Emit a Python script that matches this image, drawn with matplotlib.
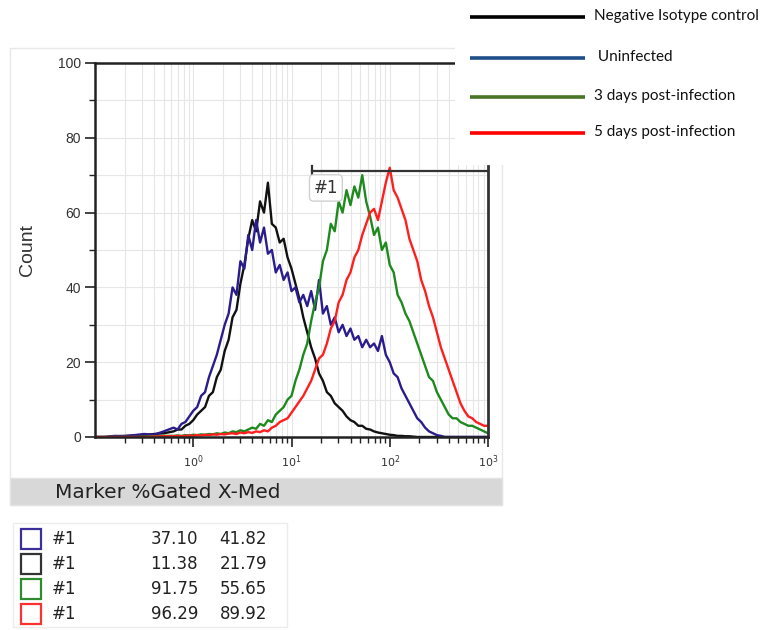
import numpy as np
import matplotlib
matplotlib.use("Agg")
import matplotlib.pyplot as plt
from matplotlib.patches import Rectangle
from matplotlib.ticker import LogLocator, FixedLocator, NullFormatter

# channel positions (log10 of fluorescence), histogram bins
chan_log = [-1.0, -0.9, -0.8, -0.7, -0.6, -0.5, -0.4, -0.3] + [round(-0.2 + 0.04 * i, 2) for i in range(81)]

uninfected = [0, 0, 0.3, 0.2, 0.5, 0.8, 0.6, 1.5,
              2.5, 2, 3.5, 4, 5.5, 7, 8, 11, 12, 16,
              19, 22, 26, 30, 33, 40, 38, 47, 45, 54,
              50, 58, 52, 56, 49, 50, 44, 46, 42, 44,
              39, 40, 36, 38, 35, 39, 34, 42, 33, 35,
              30, 32, 28, 30, 27, 29, 26, 27, 24, 26,
              24, 25, 23, 27, 22, 20, 17, 16, 13, 11,
              9, 7, 5, 4, 2.5, 1.5, 1, 0.5, 0.3, 0,
              0, 0, 0, 0, 0, 0, 0, 0, 0, 0, 0]

isotype = [0, 0, 0.2, 0.3, 0.4, 0.5, 0.8, 1,
           1.5, 2, 2, 3, 3.5, 4.5, 6, 7, 8, 11,
           12, 16, 18, 23, 26, 32, 34, 41, 46, 53,
           58, 55, 63, 60, 68, 57, 56, 52, 53, 48,
           45, 41, 37, 32, 28, 24, 21, 17, 15, 12,
           11, 9, 8, 7, 5.5, 4.5, 4, 3, 3, 2.2,
           2, 1.5, 1.2, 1, 0.8, 0.6, 0.5, 0.3, 0.3, 0.2,
           0.2, 0.1, 0, 0, 0, 0, 0, 0, 0, 0,
           0, 0, 0, 0, 0, 0, 0, 0, 0, 0, 0]

day3 = [0, 0, 0, 0, 0, 0.1, 0.2, 0.3,
        0.3, 0.4, 0.3, 0.5, 0.4, 0.6, 0.5, 0.7, 0.6, 0.8,
        0.7, 1, 0.8, 1.2, 1, 1.5, 1.3, 1.8, 1.5, 2,
        2.5, 2.2, 3.5, 3, 4.5, 4, 6, 7, 8, 10,
        11, 15, 18, 22, 25, 31, 36, 40, 47, 50,
        57, 55, 63, 60, 66, 62, 67, 64, 70, 63,
        59, 54, 56, 50, 52, 46, 44, 38, 36, 33,
        31, 28, 25, 22, 19, 16, 15, 12, 10, 8,
        6, 5, 5, 4, 3.5, 3, 3, 2.5, 2, 1.5, 1]

day5 = [0, 0, 0, 0, 0, 0, 0.1, 0.2,
        0.2, 0.3, 0.2, 0.3, 0.4, 0.3, 0.5, 0.4, 0.6, 0.5,
        0.7, 0.6, 0.8, 0.7, 0.9, 1, 0.8, 1.2, 1, 1.3,
        1.1, 1.5, 1.3, 1.8, 1.5, 2.5, 3, 4, 4.5, 5,
        6.5, 8, 9.5, 11, 13, 15, 18, 21, 22, 25,
        29, 31, 36, 38, 42, 44, 48, 50, 54, 57,
        60, 61, 58, 63, 68, 72, 66, 64, 61, 58,
        53, 50, 47, 42, 39, 35, 32, 28, 24, 21,
        18, 15, 12, 9, 7, 5.5, 5, 4, 3.5, 3, 3]

legend_labels = ["Negative Isotype control", " Uninfected", "3 days post-infection", "5 days post-infection"]
legend_colors = ["#000000", "#1f4e8a", "#4a7526", "#ff0000"]

gate_lo, gate_hi, gate_y = 16, 1000, 71

table_colors = ["#3b2f9a", "#333333", "#2e8b2e", "#ff3030"]
table_gated = ["37.10", "11.38", "91.75", "96.29"]
table_med = ["41.82", "21.79", "55.65", "89.92"]

W, H = 769, 630
fig = plt.figure(figsize=(W / 100, H / 100), dpi=100)

# background overlay in pixel coordinates
bg = fig.add_axes([0, 0, 1, 1])
bg.set_xlim(0, W)
bg.set_ylim(H, 0)
bg.axis("off")
bg.add_patch(Rectangle((10, 48), 492, 457, facecolor="white", edgecolor="#e8e8e8", lw=1))
bg.add_patch(Rectangle((10, 478), 492, 27, facecolor="#d8d8d8", edgecolor="#e4e4e4", lw=1))
bg.text(55, 493, "Marker %Gated X-Med", fontsize=14.5, family="DejaVu Sans", color="#222222", va="center")
bg.add_patch(Rectangle((13, 523), 274, 104, facecolor="white", edgecolor="#ececec", lw=1))
row_y = [539, 564, 589, 614]
for i in range(4):
    y = row_y[i]
    bg.add_patch(Rectangle((21, y - 10), 20, 20, facecolor="white", edgecolor=table_colors[i], lw=1.6))
    bg.text(52, y, "#1", fontsize=12, family="DejaVu Sans", color="#222222", va="center")
    bg.text(198, y, table_gated[i], fontsize=12, family="DejaVu Sans", color="#222222", va="center", ha="right")
    bg.text(267, y, table_med[i], fontsize=12, family="DejaVu Sans", color="#222222", va="center", ha="right")

# main histogram axes
ax = fig.add_axes([95 / W, 1 - 437 / H, (488 - 95) / W, (437 - 63) / H])
x = 10 ** np.array(chan_log)
ax.plot(x, isotype, color="#111111", lw=1.7)
ax.plot(x, uninfected, color="#2a1c8c", lw=1.7)
ax.plot(x, day3, color="#1e8a1e", lw=1.7)
ax.plot(x, day5, color="#ff1f1f", lw=1.7)

ax.set_xscale("log")
ax.set_xlim(0.1, 1000)
ax.set_ylim(0, 100)
ax.set_xticks([1, 10, 100, 1000])
ax.set_xticklabels(["$10^0$", "$10^1$", "$10^2$", "$10^3$"])
ax.xaxis.set_minor_locator(LogLocator(base=10, subs=np.arange(2, 10)))
ax.xaxis.set_minor_formatter(NullFormatter())
ax.set_yticks([0, 20, 40, 60, 80, 100])
ax.yaxis.set_minor_locator(FixedLocator([10, 30, 50, 70, 90]))
ax.grid(True, which="both", color="#e6e6e6", lw=0.8)
ax.set_axisbelow(True)
ax.tick_params(axis="both", which="major", direction="out", length=7, width=1.2, color="#222222")
ax.tick_params(axis="both", which="minor", direction="out", length=4, width=1.0, color="#222222")
ax.tick_params(axis="y", labelsize=10, labelcolor="#333333", pad=3)
ax.tick_params(axis="x", labelsize=8, labelcolor="#333333", pad=5)
for lab in ax.get_yticklabels():
    lab.set_family("Liberation Sans")
ax.spines["right"].set_visible(False)
for s in ["left", "bottom", "top"]:
    ax.spines[s].set_linewidth(1.8)
    ax.spines[s].set_color("#222222")
ax.set_ylabel("Count", fontsize=14, family="Liberation Sans", color="#333333", labelpad=16)

# gate marker #1
ax.plot([gate_lo, gate_hi], [gate_y, gate_y], color="#333333", lw=1.6, clip_on=False)
ax.plot([gate_lo, gate_lo], [gate_y - 1.5, gate_y + 1.5], color="#333333", lw=1.6, clip_on=False)
ax.plot([gate_hi, gate_hi], [0, gate_y + 1.5], color="#333333", lw=2, clip_on=False)
ax.text(gate_lo * 1.05, gate_y - 2, "#1", fontsize=12, family="DejaVu Sans", color="#333333", va="top", ha="left",
        bbox=dict(boxstyle="round,pad=0.25", facecolor="white", edgecolor="#d0d0d0", lw=1))

# legend overlay
fg = fig.add_axes([0, 0, 1, 1], facecolor="none")
fg.set_xlim(0, W)
fg.set_ylim(H, 0)
fg.axis("off")
fg.add_patch(Rectangle((455, 0), 314, 165, facecolor="white", edgecolor="none"))
leg_y = [17, 58, 97, 133]
for i in range(4):
    fg.plot([470, 585], [leg_y[i], leg_y[i]], color=legend_colors[i], lw=2.6, solid_capstyle="butt")
    fg.text(594, leg_y[i] - 1, legend_labels[i], fontsize=11, family="Lato", color="#111111", va="center", ha="left")

fig.savefig("out.png", dpi=100)
